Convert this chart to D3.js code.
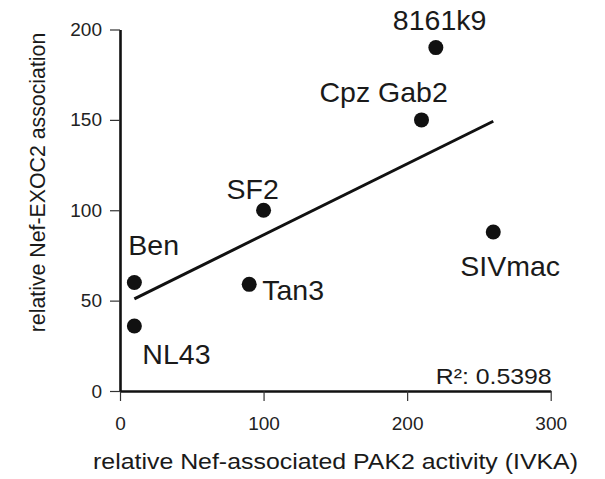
<!DOCTYPE html>
<html>
<head>
<meta charset="utf-8">
<script src="https://cdn.jsdelivr.net/npm/d3@7"></script>
<style>
  body { margin: 0; background: #fff; }
  svg { display: block; font-family: "Liberation Sans", Arial, Helvetica, sans-serif; }
</style>
</head>
<body>
<script>
// data
const names = ["8161k9", "Cpz Gab2", "SF2", "Ben", "Tan3", "NL43", "SIVmac"];
const pak2 = [220, 210, 100, 10, 90, 10, 260];   // relative Nef-associated PAK2 activity
const exoc2 = [190, 150, 100, 60, 59, 36, 88];   // relative Nef-EXOC2 association
const xTicks = [0, 100, 200, 300];
const yTicks = [0, 50, 100, 150, 200];
const r2Text = "R\u00b2: 0.5398";

// label placement relative to each dot (layout, not data)
const labelOffset = {
  "8161k9":   [-43, -18],
  "Cpz Gab2": [-102, -18],
  "SF2":      [-37, -11],
  "Ben":      [-6, -28],
  "Tan3":     [13, 16],
  "NL43":     [8, 38],
  "SIVmac":   [-33, 44]
};

const width = 605, height = 479;
const svg = d3.select("body").append("svg")
    .attr("width", width)
    .attr("height", height);

const x = d3.scaleLinear().domain([0, 300]).range([120, 550.7]);
const y = d3.scaleLinear().domain([0, 200]).range([391, 29.5]);

const points = names.map((n, i) => ({name: n, x: pak2[i], y: exoc2[i]}));

// least squares fit
const mx = d3.mean(pak2), my = d3.mean(exoc2);
const slope = d3.sum(points, d => (d.x - mx) * (d.y - my)) / d3.sum(points, d => (d.x - mx) ** 2);
const icpt = my - slope * mx;
const [x0, x1] = d3.extent(pak2);

// axes
const gx = svg.append("g")
    .attr("transform", `translate(0,${y(0)})`)
    .call(d3.axisBottom(x).tickValues(xTicks).tickSize(10).tickSizeOuter(0).tickPadding(16));
const gy = svg.append("g")
    .attr("transform", `translate(${x(0)},0)`)
    .call(d3.axisLeft(y).tickValues(yTicks).tickSize(10).tickSizeOuter(0).tickPadding(8));

[gx, gy].forEach(g => {
  g.select(".domain").attr("stroke", "#111").attr("stroke-width", 2.6);
  g.selectAll(".tick line").attr("stroke", "#333").attr("stroke-width", 1.2);
  g.selectAll(".tick text")
      .attr("fill", "#222")
      .style("font-size", "19px")
      .style("font-family", "'Liberation Sans', Arial, sans-serif");
});

// regression line
svg.append("line")
    .attr("x1", x(x0)).attr("y1", y(icpt + slope * x0))
    .attr("x2", x(x1)).attr("y2", y(icpt + slope * x1))
    .attr("stroke", "#111")
    .attr("stroke-width", 3);

// dots
svg.append("g")
  .selectAll("circle")
  .data(points)
  .join("circle")
    .attr("cx", d => x(d.x))
    .attr("cy", d => y(d.y))
    .attr("r", 7.5)
    .attr("fill", "#111");

// dot labels
svg.append("g")
  .selectAll("text")
  .data(points)
  .join("text")
    .attr("x", d => x(d.x) + labelOffset[d.name][0])
    .attr("y", d => y(d.y) + labelOffset[d.name][1])
    .attr("fill", "#1a1a1a")
    .style("font-size", "28.5px")
    .text(d => d.name);

// R squared
svg.append("text")
    .attr("x", 551.7)
    .attr("y", 384)
    .attr("text-anchor", "end")
    .attr("fill", "#1a1a1a")
    .attr("textLength", 116)
    .attr("lengthAdjust", "spacingAndGlyphs")
    .style("font-size", "22px")
    .text(r2Text);

// axis titles
svg.append("text")
    .attr("x", 93)
    .attr("y", 469)
    .attr("fill", "#1a1a1a")
    .attr("textLength", 485)
    .attr("lengthAdjust", "spacingAndGlyphs")
    .style("font-size", "21.5px")
    .text("relative Nef-associated PAK2 activity (IVKA)");

svg.append("text")
    .attr("transform", "translate(45,182.5) rotate(-90)")
    .attr("text-anchor", "middle")
    .attr("fill", "#1a1a1a")
    .style("font-size", "21.3px")
    .text("relative Nef-EXOC2 association");
</script>
</body>
</html>
